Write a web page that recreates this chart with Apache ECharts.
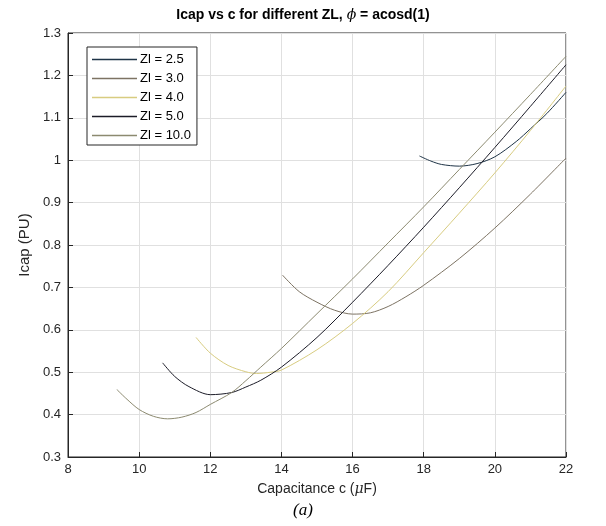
<!DOCTYPE html>
<html>
<head>
<meta charset="utf-8">
<script src="https://cdn.jsdelivr.net/npm/echarts@6/dist/echarts.min.js"></script>
<style>
html, body { margin: 0; padding: 0; background: #fff; }
#chart { width: 606px; height: 526px; }
</style>
</head>
<body>
<div id="chart"></div>
<script>
// values: [capacitance uF, Icap PU]
var seriesNames = ['Zl = 2.5', 'Zl = 3.0', 'Zl = 4.0', 'Zl = 5.0', 'Zl = 10.0'];
var seriesColors = ['#1f3447', '#7d7363', '#d8cc80', '#1c1c28', '#8c8a70'];

var zl25 = [[17.88, 1.01], [18.2, 0.998], [18.5, 0.99], [19.0, 0.986], [19.5, 0.992], [20.0, 1.008],
    [20.6, 1.044], [21.0, 1.074], [21.46, 1.11], [22.0, 1.16]];
var zl30 = [[14.03, 0.729], [14.5, 0.69], [15.0, 0.665], [15.5, 0.646], [16.0, 0.637], [16.5, 0.64],
    [17.0, 0.655], [17.5, 0.678], [18.0, 0.705], [19.0, 0.768], [20.0, 0.84], [21.0, 0.92], [22.0, 1.005]];
var zl40 = [[11.6, 0.582], [12.0, 0.545], [12.5, 0.516], [13.0, 0.501], [13.3, 0.497], [13.7, 0.5],
    [14.0, 0.505], [15.0, 0.553], [16.0, 0.615], [17.0, 0.69], [18.0, 0.782], [19.0, 0.875],
    [20.0, 0.97], [21.0, 1.07], [22.0, 1.175]];
var zl50 = [[10.66, 0.522], [11.0, 0.49], [11.4, 0.466], [12.0, 0.447], [12.6, 0.452], [13.0, 0.465],
    [13.42, 0.481], [14.0, 0.512], [15.0, 0.582], [16.0, 0.665], [17.0, 0.752], [18.0, 0.842],
    [19.0, 0.935], [20.0, 1.03], [21.0, 1.127], [22.0, 1.225]];
var zl100 = [[9.375, 0.459], [9.66, 0.436], [10.0, 0.412], [10.4, 0.396], [10.8, 0.39], [11.2, 0.394],
    [11.6, 0.405], [12.0, 0.424], [12.6, 0.452], [13.0, 0.48], [13.42, 0.512], [14.0, 0.556],
    [15.0, 0.638], [16.0, 0.72], [17.0, 0.805], [18.0, 0.89], [19.0, 0.978], [20.0, 1.066],
    [21.0, 1.155], [22.0, 1.245]];
var allData = [zl25, zl30, zl40, zl50, zl100];

var chartDom = document.getElementById('chart');
var myChart = echarts.init(chartDom);
var txt = '#262626';
var font = 'Liberation Sans, Arial, sans-serif';

var series = [];
for (var i = 0; i < allData.length; i++) {
    series.push({
        name: seriesNames[i],
        type: 'line',
        data: allData[i],
        smooth: 0.3,
        showSymbol: false,
        symbol: 'none',
        color: seriesColors[i],
        lineStyle: { width: 1, color: seriesColors[i] },
        z: 3
    });
}

var option = {
    animation: false,
    backgroundColor: '#fff',
    textStyle: { fontFamily: font },
    title: {
        text: 'Icap vs c for different ZL, {phi|ϕ} = acosd(1)',
        left: 'center',
        top: 3,
        textStyle: {
            color: '#000',
            fontWeight: 'bold',
            fontSize: 14,
            fontFamily: font,
            rich: {
                phi: { fontStyle: 'italic', fontWeight: 'normal', fontSize: 14, fontFamily: 'DejaVu Serif', color: '#000' }
            }
        }
    },
    grid: {
        left: 68, right: 40, top: 33, bottom: 69,
        show: true,
        borderColor: txt,
        borderWidth: 1
    },
    legend: {
        orient: 'vertical',
        left: 87,
        top: 47,
        width: 111,
        padding: [6, 6, 3, 5],
        itemGap: 6,
        itemWidth: 45,
        itemHeight: 1.5,
        icon: 'rect',
        borderColor: txt,
        borderWidth: 1,
        backgroundColor: '#fff',
        textStyle: { color: '#000', fontSize: 13, fontFamily: font, padding: [0, 0, 0, -2] },
        data: seriesNames
    },
    xAxis: {
        type: 'value',
        min: 8, max: 22, interval: 2,
        name: 'Capacitance c ({mu|μ}F)',
        nameLocation: 'middle',
        nameGap: 25,
        nameTextStyle: {
            color: txt, fontSize: 14, fontFamily: font,
            rich: { mu: { fontStyle: 'italic', fontSize: 14, fontFamily: 'DejaVu Serif', color: txt } }
        },
        axisLine: { show: true, lineStyle: { color: txt, width: 1 } },
        axisTick: { show: true, inside: true, length: 5, lineStyle: { color: txt } },
        axisLabel: { color: txt, fontSize: 13, margin: 6 },
        splitLine: { show: true, lineStyle: { color: '#e0e0e0', width: 1 } }
    },
    yAxis: {
        type: 'value',
        min: 0.3, max: 1.3, interval: 0.1,
        name: 'Icap (PU)',
        nameLocation: 'middle',
        nameGap: 33,
        nameTextStyle: { color: txt, fontSize: 15, fontFamily: font },
        axisLine: { show: true, lineStyle: { color: txt, width: 1 } },
        axisTick: { show: true, inside: true, length: 5, lineStyle: { color: txt } },
        axisLabel: {
            color: txt, fontSize: 13, margin: 7,
            formatter: function (v) { return String(Math.round(v * 10) / 10); }
        },
        splitLine: { show: true, lineStyle: { color: '#e0e0e0', width: 1 } }
    },
    graphic: [{
        type: 'text',
        left: 'center',
        top: 502,
        style: {
            text: '(a)',
            font: 'italic 17px "Liberation Serif", "Times New Roman", serif',
            fill: '#000'
        }
    }],
    series: series
};

option && myChart.setOption(option);
window.addEventListener('resize', function () {
    myChart.resize();
});
</script>
</body>
</html>
